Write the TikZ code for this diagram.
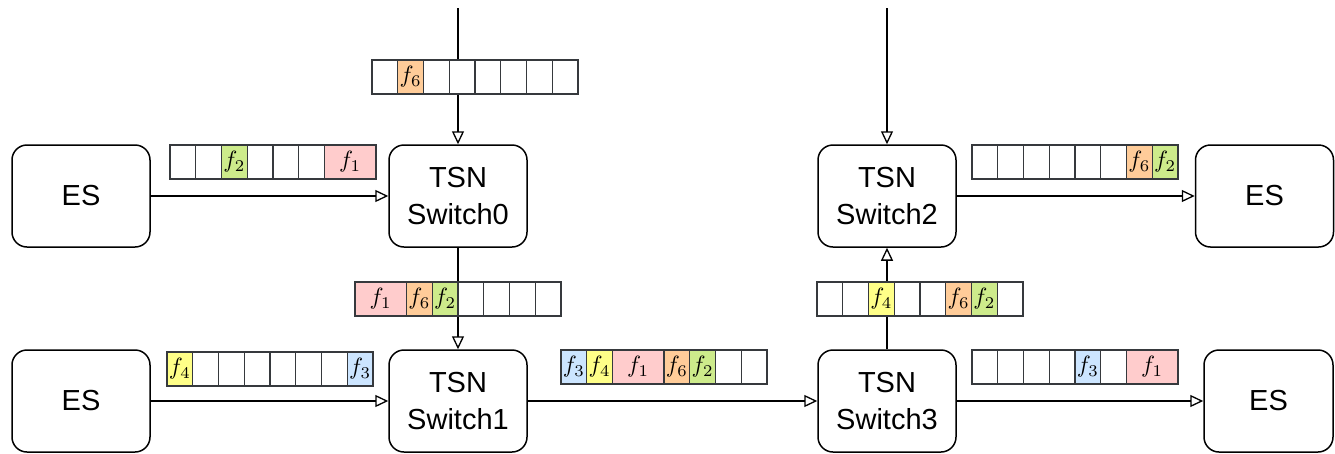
\documentclass[tikz,border=0pt]{standalone}
\usepackage{fontspec}
\setsansfont{Liberation Sans}
\usetikzlibrary{arrows.meta}

\definecolor{cellline}{HTML}{36393D}
\definecolor{fpink}{HTML}{FFCCCC}
\definecolor{forange}{HTML}{FFCC99}
\definecolor{fgreen}{HTML}{CDEB8B}
\definecolor{fyellow}{HTML}{FFFF88}
\definecolor{fblue}{HTML}{CCE5FF}

% one row of frame slots: #1 = left x, #2 = top y, #3 = list of units/fill/label
\newcommand\slotrow[3]{%
  \gdef\slotx{#1}%
  \foreach \w/\c/\l in {#3}{%
    \pgfmathsetmacro\slotw{\w*25.75}%
    \draw[cell, fill=\c] (\slotx,#2) rectangle ++(\slotw,34);
    \pgfmathsetmacro\slotc{\slotx+\slotw/2}%
    \node[celltext] at (\slotc,#2+17) {$\l$};
    \pgfmathsetmacro\slotn{\slotx+\slotw}%
    \global\let\slotx\slotn
  }%
}

\begin{document}
\begin{tikzpicture}[x=1pt, y=-1pt,
  device/.style={draw, line width=1.5pt, rounded corners=15pt,
    minimum width=138pt, minimum height=102pt, inner sep=0pt, align=center,
    font=\sffamily\fontsize{29}{37}\selectfont},
  link/.style={line width=1.3pt, -{Triangle[open, length=13pt, width=12pt, line width=1.3pt]}},
  cell/.style={draw=cellline, line width=1.3pt},
  celltext/.style={inner sep=0pt, font=\fontsize{10}{12}\selectfont, scale=2.35, transform shape}]

\useasboundingbox (0,0) rectangle (1335,453);

% devices
\node[device] (es0) at (81,196) {ES};
\node[device] (sw0) at (458,196) {TSN\\Switch0};
\node[device] (sw2) at (887,196) {TSN\\Switch2};
\node[device] (es2) at (1264.5,196) {ES};
\node[device] (es1) at (81,401) {ES};
\node[device] (sw1) at (458,401) {TSN\\Switch1};
\node[device] (sw3) at (887,401) {TSN\\Switch3};
\node[device, minimum width=129pt] (es3) at (1268.5,401) {ES};

\coordinate (in0) at (458,8);
\coordinate (in2) at (887,8);

% links
\draw[link] (in0) -- (sw0);
\draw[link] (in2) -- (sw2);
\draw[link] (es0) -- (sw0);
\draw[link] (sw0) -- (sw1);
\draw[link] (es1) -- (sw1);
\draw[link] (sw1) -- (sw3);
\draw[link] (sw3) -- (sw2);
\draw[link] (sw2) -- (es2);
\draw[link] (sw3) -- (es3);

% frame schedules on the links
\slotrow{372}{60}{1/white/, 1/forange/f_6, 1/white/, 1/white/, 1/white/, 1/white/, 1/white/, 1/white/}
\slotrow{170}{145}{1/white/, 1/white/, 1/fgreen/f_2, 1/white/, 1/white/, 1/white/, 2/fpink/f_1}
\slotrow{355}{282}{2/fpink/f_1, 1/forange/f_6, 1/fgreen/f_2, 1/white/, 1/white/, 1/white/, 1/white/}
\slotrow{167}{352}{1/fyellow/f_4, 1/white/, 1/white/, 1/white/, 1/white/, 1/white/, 1/white/, 1/fblue/f_3}
\slotrow{561}{350}{1/fblue/f_3, 1/fyellow/f_4, 2/fpink/f_1, 1/forange/f_6, 1/fgreen/f_2, 1/white/, 1/white/}
\slotrow{817}{282}{1/white/, 1/white/, 1/fyellow/f_4, 1/white/, 1/white/, 1/forange/f_6, 1/fgreen/f_2, 1/white/}
\slotrow{972}{145}{1/white/, 1/white/, 1/white/, 1/white/, 1/white/, 1/white/, 1/forange/f_6, 1/fgreen/f_2}
\slotrow{972}{350}{1/white/, 1/white/, 1/white/, 1/white/, 1/fblue/f_3, 1/white/, 2/fpink/f_1}

\end{tikzpicture}
\end{document}
